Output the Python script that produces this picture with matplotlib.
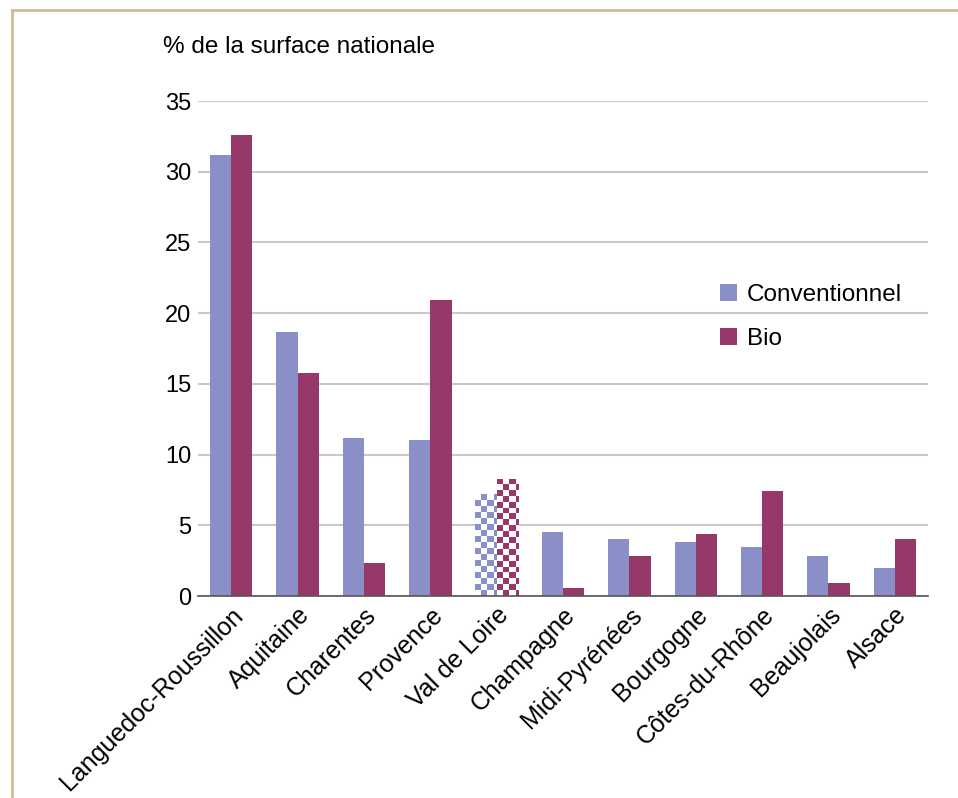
import matplotlib.pyplot as plt
import numpy as np
from matplotlib.colors import ListedColormap
from matplotlib.lines import Line2D

plt.rcParams['font.family'] = ['Liberation Sans', 'DejaVu Sans']

regions = ["Languedoc-Roussillon", "Aquitaine", "Charentes", "Provence", "Val de Loire",
           "Champagne", "Midi-Pyrénées", "Bourgogne", "Côtes-du-Rhône", "Beaujolais", "Alsace"]
conventionnel = [31.2, 18.7, 11.2, 11.0, 7.2, 4.5, 4.0, 3.8, 3.5, 2.8, 2.0]
bio = [32.6, 15.8, 2.3, 20.9, 8.3, 0.6, 2.8, 4.4, 7.4, 0.9, 4.0]
checkered = "Val de Loire"

c_conv = "#8a8fc8"
c_bio = "#97386b"

fig = plt.figure(figsize=(9.58, 7.98), dpi=100)
ax = fig.add_axes([0.2067, 0.2531, 0.762, 0.6203])

x = np.arange(len(regions))
w = 0.32
bars1 = ax.bar(x - w / 2, conventionnel, w, color=c_conv, label="Conventionnel", zorder=2)
bars2 = ax.bar(x + w / 2, bio, w, color=c_bio, label="Bio", zorder=2)

# checkered bars for Val de Loire
i = regions.index(checkered)
sq_x, sq_y = 0.09, 0.42
for bars, col in ((bars1, c_conv), (bars2, c_bio)):
    b = bars[i]
    b.set_facecolor("none")
    b.set_linewidth(0)
    x0, h = b.get_x(), b.get_height()
    nx = 4
    ny = int(round(h / sq_y))
    board = (np.indices((ny, nx)).sum(axis=0) % 2)
    im = ax.imshow(board, cmap=ListedColormap(["white", col]),
                   extent=(x0, x0 + nx * sq_x, 0, h),
                   aspect="auto", interpolation="nearest", origin="lower", zorder=2)
    im.set_clip_path(b)

ax.set_xlim(-0.5, len(regions) - 0.5)
ax.set_ylim(0, 35)
ax.set_yticks(range(0, 36, 5))
ax.grid(axis="y", color="#c8c8c8", linewidth=1.5, zorder=0)
ax.set_axisbelow(True)
for s in ("top", "right", "left"):
    ax.spines[s].set_visible(False)
ax.spines["bottom"].set_color("#555555")
ax.spines["bottom"].set_linewidth(1.2)
ax.spines["bottom"].set_zorder(3)
ax.tick_params(axis="y", length=0, labelsize=17, pad=5)
ax.tick_params(axis="x", length=0, pad=5)
ax.set_xticks(x)
ax.set_xticklabels(regions, rotation=45, ha="right", rotation_mode="anchor", fontsize=18)

fig.text(0.17, 0.941, "% de la surface nationale", fontsize=17.5, va="center")

ax.legend(loc="upper left", bbox_to_anchor=(0.685, 0.675), frameon=False, fontsize=17.5,
          handlelength=0.7, handleheight=0.7, labelspacing=0.9, handletextpad=0.4)

# frame of the page
fig.add_artist(Line2D([0.0125, 1.0], [0.9875, 0.9875], color="#cfc08a", linewidth=2))
fig.add_artist(Line2D([0.0125, 0.0125], [0.0, 0.9875], color="#cfc08a", linewidth=2))

fig.savefig("out.png", dpi=100)
